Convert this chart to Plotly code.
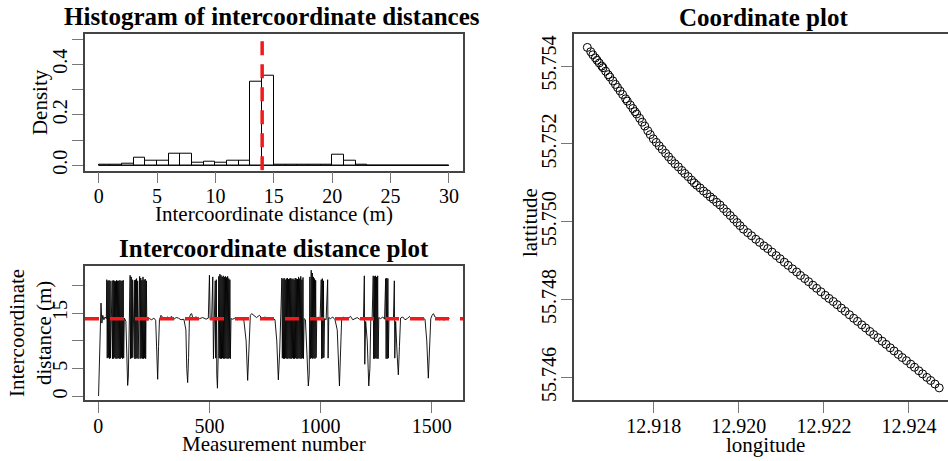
import plotly.graph_objects as go

W, H = 948, 461

# ---------------- data ----------------
bin_edges = list(range(0, 31))
density = [0.002, 0.003, 0.005, 0.031, 0.020, 0.017, 0.045, 0.047, 0.012, 0.016,
           0.010, 0.017, 0.017, 0.332, 0.357, 0.002, 0.001, 0.001, 0.001, 0.003,
           0.043, 0.018, 0.002, 0.0, 0.0, 0.0, 0.0, 0.0, 0.0, 0.0]
median_dist = 14.0

hist_xticks = [0, 5, 10, 15, 20, 25, 30]
hist_yticks = [0.0, 0.1, 0.2, 0.3, 0.4, 0.5]
hist_ylabels = ["0.0", "", "0.2", "", "0.4", ""]

seg_start = [(1, 0.1), (5, 8.0), (12, 16.8), (16, 13.2), (20, 14.6), (25, 13.8), (30, 14.3), (36, 14.0)]
seg_burst1 = [(38, 21.0), (40, 6.9), (43, 20.8), (45, 7.0), (48, 20.9), (50, 6.8), (53, 20.8), (55, 6.9),
              (58, 14.2), (62, 20.8), (64, 6.8), (67, 20.9), (69, 6.8), (72, 20.8), (74, 7.0), (77, 20.7),
              (79, 6.8), (82, 20.9), (84, 6.8), (87, 20.8), (89, 6.9), (92, 20.8), (94, 6.8), (97, 20.9),
              (99, 6.8), (102, 20.8), (104, 7.0), (107, 20.8), (109, 6.8), (112, 20.9), (114, 6.9), (117, 14.1),
              (120, 13.9), (124, 13.5), (128, 6.0), (132, 2.0), (135, 3.5), (138, 12.0), (141, 14.3)]
seg_burst2 = [(143, 21.8), (145, 6.8), (148, 21.5), (150, 6.9), (153, 21.0), (155, 7.0), (158, 14.0),
              (162, 20.9), (164, 6.8), (167, 21.0), (169, 6.8), (172, 21.2), (174, 6.9), (177, 20.8), (179, 6.8),
              (182, 14.2), (186, 21.6), (188, 6.8), (191, 21.3), (193, 6.9), (196, 20.9), (198, 6.8),
              (201, 21.5), (203, 6.8), (206, 21.0), (208, 6.9), (211, 21.1), (213, 6.8), (216, 20.8), (218, 14.0)]
seg_calm1 = [(222, 13.7), (230, 14.0), (240, 13.8), (250, 14.1), (258, 13.7), (263, 8.0), (267, 3.1),
             (271, 9.0), (275, 13.8), (282, 14.6), (290, 14.2), (300, 14.0), (310, 14.3), (320, 14.1),
             (330, 14.4), (340, 13.9), (350, 14.2), (360, 14.1), (372, 13.8), (385, 13.9), (394, 12.0),
             (398, 5.0), (402, 2.5), (406, 7.0), (410, 14.2), (415, 14.8), (420, 14.9), (425, 14.1),
             (440, 14.3), (455, 14.0), (470, 14.2), (485, 13.9), (495, 14.1)]
seg_burst3 = [(500, 21.8), (503, 13.8), (510, 14.0), (515, 21.5), (518, 6.8), (521, 14.2), (526, 20.8),
              (528, 6.9), (531, 21.0), (533, 4.0), (536, 1.5), (539, 6.8), (542, 21.6), (544, 6.9),
              (547, 22.0), (549, 6.8), (552, 21.8), (554, 6.8), (557, 21.5), (559, 6.9), (562, 21.7),
              (564, 6.8), (567, 21.5), (569, 6.8), (572, 21.6), (574, 6.9), (577, 21.4), (579, 6.8),
              (582, 21.6), (584, 6.8), (587, 21.2), (589, 6.9), (592, 21.0), (594, 6.8), (597, 14.0)]
seg_calm2 = [(605, 13.9), (615, 14.1), (625, 13.8), (640, 14.0), (655, 13.7), (665, 10.0), (672, 2.9),
             (678, 9.0), (684, 14.6), (690, 14.9), (700, 14.5), (712, 14.2), (725, 14.6), (738, 14.0),
             (750, 14.3), (765, 13.9), (780, 14.1), (795, 13.8), (803, 10.0), (810, 3.0), (816, 8.0), (822, 14.0)]
seg_burst4 = [(826, 21.3), (828, 6.9), (831, 21.1), (833, 6.8), (836, 21.3), (838, 6.8), (841, 21.0),
              (843, 6.9), (846, 21.2), (848, 6.8), (851, 21.3), (853, 6.8), (856, 21.1), (858, 6.9),
              (861, 21.2), (863, 6.8), (866, 21.3), (868, 6.8), (871, 21.1), (873, 6.9), (876, 21.2),
              (878, 6.8), (881, 21.0), (883, 6.8), (886, 21.3), (888, 6.9), (891, 21.2), (893, 6.8),
              (896, 21.1), (898, 6.8), (901, 21.5), (903, 6.9), (906, 21.2), (908, 6.8), (911, 21.6),
              (913, 6.8), (916, 21.0), (918, 6.9), (921, 21.4), (923, 6.8), (926, 14.0), (932, 13.8),
              (940, 6.0), (945, 1.9), (949, 4.0), (952, 21.5), (954, 6.8), (958, 22.7), (960, 6.9),
              (963, 22.2), (965, 6.8), (968, 21.5), (970, 6.9), (973, 21.2), (975, 6.8), (978, 20.9),
              (980, 7.0), (983, 14.1), (990, 14.3), (998, 13.9), (1003, 21.0), (1005, 6.8), (1008, 21.2),
              (1010, 6.9), (1013, 20.8), (1015, 7.0), (1018, 14.0), (1025, 13.8), (1032, 21.0), (1034, 6.9),
              (1037, 14.2), (1045, 14.0), (1055, 14.3), (1065, 13.8), (1075, 12.0), (1080, 5.0),
              (1085, 1.9), (1090, 8.0), (1095, 14.0)]
seg_calm3 = [(1105, 14.3), (1115, 13.9), (1125, 14.1), (1135, 14.4), (1145, 13.8), (1155, 14.0),
             (1165, 14.2), (1175, 13.9), (1185, 14.1), (1193, 13.8)]
seg_burst5 = [(1197, 21.7), (1199, 5.8), (1203, 13.5), (1210, 10.0), (1217, 1.9), (1222, 5.0), (1226, 13.8),
              (1232, 14.0), (1237, 21.7), (1239, 6.8), (1242, 21.6), (1244, 6.8), (1247, 21.7), (1249, 6.9),
              (1252, 21.5), (1254, 6.8), (1257, 21.7), (1259, 6.8), (1262, 14.2), (1270, 14.0), (1280, 14.3),
              (1288, 13.9), (1293, 21.2), (1295, 6.8), (1298, 21.3), (1300, 6.8), (1303, 21.2), (1305, 6.9),
              (1308, 14.1), (1315, 13.8), (1322, 14.2), (1328, 14.0), (1332, 20.8), (1334, 6.9), (1338, 13.5),
              (1344, 8.0), (1350, 3.9), (1355, 9.0), (1360, 14.1)]
seg_end = [(1370, 14.3), (1380, 13.8), (1390, 14.0), (1400, 14.4), (1410, 13.9), (1420, 14.0), (1430, 14.2),
           (1440, 13.8), (1450, 14.0), (1460, 14.1), (1470, 13.9), (1478, 10.0), (1485, 3.3), (1491, 9.0),
           (1496, 14.0), (1502, 14.6), (1508, 14.9), (1515, 14.3), (1525, 14.0), (1535, 13.8), (1545, 14.1),
           (1555, 13.7), (1565, 14.0), (1575, 13.9), (1581, 14.1)]

dist_xticks = [0, 500, 1000, 1500]
dist_yticks = [0, 5, 10, 15, 20]
dist_ylabels = ["0", "5", "", "15", ""]

longitude = [12.91644, 12.91652, 12.91657, 12.91663, 12.91667, 12.91672, 12.91678, 12.91681, 12.91687,
             12.91693, 12.91697, 12.91704, 12.91710, 12.91715, 12.91721, 12.91727, 12.91734, 12.91738,
             12.91745, 12.91751, 12.91756, 12.91760, 12.91767, 12.91773, 12.91779, 12.91786, 12.91792,
             12.91799, 12.91806, 12.91813, 12.91820, 12.91828, 12.91835, 12.91842, 12.91850, 12.91858,
             12.91866, 12.91873, 12.91881, 12.91889, 12.91895, 12.91901, 12.91909, 12.91917, 12.91925,
             12.91933, 12.91940, 12.91948, 12.91956, 12.91964, 12.91972, 12.91980, 12.91988, 12.91996,
             12.92003, 12.92011, 12.92021, 12.92030, 12.92040, 12.92049, 12.92059, 12.92068, 12.92078,
             12.92088, 12.92097, 12.92107, 12.92116, 12.92126, 12.92136, 12.92145, 12.92155, 12.92164,
             12.92174, 12.92183, 12.92193, 12.92203, 12.92212, 12.92222, 12.92231, 12.92241, 12.92250,
             12.92260, 12.92270, 12.92279, 12.92289, 12.92298, 12.92308, 12.92317, 12.92327, 12.92337,
             12.92346, 12.92356, 12.92365, 12.92375, 12.92384, 12.92394, 12.92404, 12.92413, 12.92423,
             12.92432, 12.92442, 12.92451, 12.92461, 12.92471]
latitude = [55.75448, 55.75437, 55.75429, 55.75421, 55.75415, 55.75408, 55.75400, 55.75396, 55.75387,
            55.75378, 55.75372, 55.75362, 55.75353, 55.75345, 55.75336, 55.75327, 55.75316, 55.75310,
            55.75300, 55.75291, 55.75283, 55.75277, 55.75266, 55.75256, 55.75246, 55.75234, 55.75224,
            55.75213, 55.75204, 55.75195, 55.75186, 55.75176, 55.75167, 55.75158, 55.75149, 55.75141,
            55.75132, 55.75124, 55.75116, 55.75107, 55.75100, 55.75094, 55.75087, 55.75079, 55.75072,
            55.75064, 55.75058, 55.75050, 55.75043, 55.75034, 55.75025, 55.75016, 55.75007, 55.74998,
            55.74990, 55.74981, 55.74972, 55.74964, 55.74955, 55.74947, 55.74938, 55.74931, 55.74922,
            55.74913, 55.74905, 55.74896, 55.74888, 55.74879, 55.74871, 55.74862, 55.74854, 55.74846,
            55.74837, 55.74829, 55.74820, 55.74811, 55.74803, 55.74795, 55.74787, 55.74778, 55.74770,
            55.74761, 55.74752, 55.74744, 55.74735, 55.74727, 55.74718, 55.74710, 55.74702, 55.74693,
            55.74685, 55.74676, 55.74668, 55.74659, 55.74651, 55.74643, 55.74634, 55.74626, 55.74617,
            55.74609, 55.74600, 55.74592, 55.74583, 55.74573]

coord_xticks = [12.918, 12.920, 12.922, 12.924]
coord_yticks = [55.746, 55.748, 55.750, 55.752, 55.754]

# ---------------- figure ----------------
sections = seg_start + seg_burst1 + seg_burst2 + seg_calm1 + seg_burst3 + seg_calm2 + seg_burst4 + seg_calm3 + seg_burst5 + seg_end
meas_number = [p[0] for p in sections]
inter_dist = [p[1] for p in sections]

FONT = "Liberation Serif, Times New Roman, serif"
RED = "#f01a1a"
LINE = "#444444"
TICK = "#777777"

def px_x(px):
    return px / W

def px_y(py):
    return 1 - py / H

fig = go.Figure()

bin_centers = [(bin_edges[i] + bin_edges[i + 1]) / 2 for i in range(len(density))]
fig.add_trace(go.Scatter(x=[bin_edges[0], bin_edges[-1]], y=[0, 0], mode="lines",
                         line=dict(color="black", width=1), xaxis="x", yaxis="y", showlegend=False,
                         hoverinfo="skip"))
fig.add_trace(go.Bar(x=bin_centers, y=density, width=1, marker=dict(color="white", line=dict(color="black", width=1)),
                     xaxis="x", yaxis="y", showlegend=False))
fig.add_trace(go.Scatter(x=[median_dist, median_dist], y=[-0.02, 0.52], mode="lines",
                         line=dict(color=RED, width=3.5, dash="14px,9px"), xaxis="x", yaxis="y",
                         showlegend=False))

fig.add_trace(go.Scatter(x=meas_number, y=inter_dist, mode="lines", line=dict(color="black", width=0.9),
                         xaxis="x2", yaxis="y2", showlegend=False))
fig.add_trace(go.Scatter(x=[-60, 1641], y=[median_dist, median_dist], mode="lines",
                         line=dict(color=RED, width=3.5, dash="14px,11px"), xaxis="x2", yaxis="y2",
                         showlegend=False))

fig.add_trace(go.Scatter(x=longitude, y=latitude, mode="markers",
                         marker=dict(symbol="circle-open", size=8, color="black", line=dict(width=1, color="black")),
                         xaxis="x3", yaxis="y3", showlegend=False))

tickfont = dict(family=FONT, size=20, color="black")
common = dict(showgrid=False, zeroline=False, ticks="outside", ticklen=11, tickcolor=TICK, tickwidth=1,
              linecolor=LINE, linewidth=1.5, showline=True, tickfont=tickfont)
xcommon = dict(ticklabelstandoff=-4, **common)
ycommon = dict(ticklabelstandoff=-3, tickangle=-90, **common)

fig.update_layout(
    width=W, height=H, margin=dict(l=0, r=0, t=0, b=0),
    paper_bgcolor="white", plot_bgcolor="white",
    bargap=0,
    xaxis=dict(domain=[px_x(85), px_x(463)], range=[-1.17, 31.2], tickvals=hist_xticks, mirror=True,
               anchor="y", **xcommon),
    yaxis=dict(domain=[px_y(172), px_y(34)], range=[-0.0208, 0.5215], tickvals=hist_yticks,
               ticktext=hist_ylabels, mirror=True, anchor="x", **ycommon),
    xaxis2=dict(domain=[px_x(85), px_x(463)], range=[-60, 1641], tickvals=dist_xticks, mirror=True,
                anchor="y2", **xcommon),
    yaxis2=dict(domain=[px_y(404), px_y(268)], range=[-0.71, 23.52], tickvals=dist_yticks,
                ticktext=dist_ylabels, mirror=True, anchor="x2", **ycommon),
    xaxis3=dict(domain=[px_x(574), 1.0], range=[12.916127, 12.924917], tickvals=coord_xticks,
                tickformat=".3f", mirror=True, anchor="y3", **xcommon),
    yaxis3=dict(domain=[px_y(404), px_y(34)], range=[55.745406, 55.754833], tickvals=coord_yticks,
                tickformat=".3f", anchor="x3", **ycommon),
)

def ann(text, x, y, size=21, bold=False, angle=0):
    t = "<b>" + text + "</b>" if bold else text
    fig.add_annotation(text=t, x=px_x(x), y=px_y(y), xref="paper", yref="paper", showarrow=False,
                       font=dict(family=FONT, size=size, color="black"), textangle=angle,
                       xanchor="center", yanchor="middle")

ann("Histogram of intercoordinate distances", 272, 17, size=25, bold=True)
ann("Intercoordinate distance (m)", 274, 216)
ann("Density", 40, 103, angle=-90)

ann("Intercoordinate distance plot", 274, 251, size=25, bold=True)
ann("Measurement number", 274, 448)
ann("Intercoordinate", 17, 336, angle=-90)
ann("distance (m)", 44, 336, angle=-90)

ann("Coordinate plot", 763, 18, size=25, bold=True)
ann("longitude", 765, 449)
ann("lattitude", 530, 225, angle=-90)

fig.write_html("out.html")
